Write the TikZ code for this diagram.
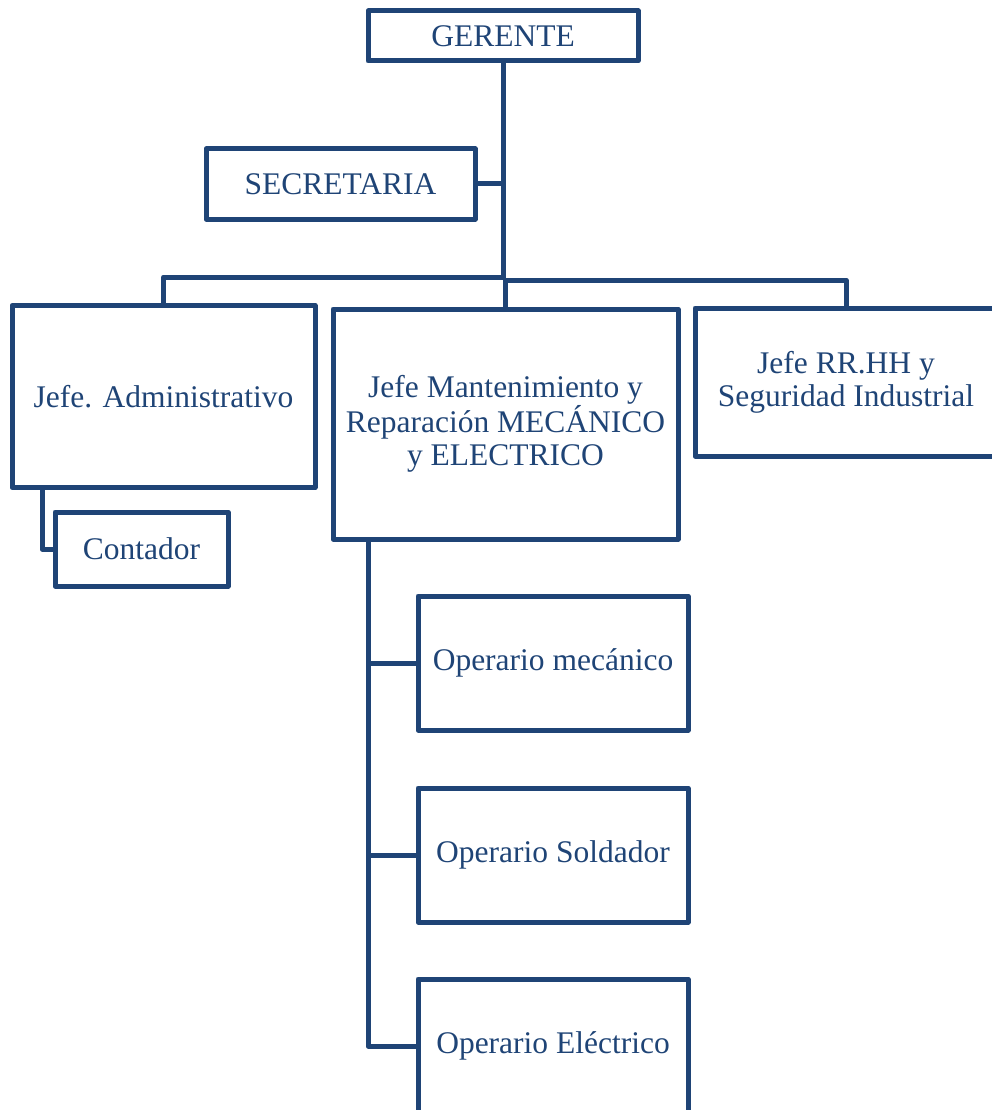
\documentclass[tikz,border=0pt]{standalone}
\usepackage{fontspec}
\setmainfont{Liberation Serif}
\definecolor{orgblue}{RGB}{31,68,118}
\begin{document}
\begin{tikzpicture}[x=1pt,y=-1pt,
  box/.style={draw=orgblue, line width=5pt, line join=round, rectangle, inner sep=0pt, outer sep=0pt,
    text=orgblue, align=center, font=\fontsize{31.5}{33}\selectfont},
  link/.style={draw=orgblue, line width=5pt, line join=round}]
\useasboundingbox (0,0) rectangle (992,1110);
\clip (0,0) rectangle (992,1110);
\node[box, minimum width=270pt, minimum height=50pt] (ger) at (503,36) {GERENTE};
\node[box, minimum width=269pt, minimum height=70pt] (sec) at (340.5,184) {SECRETARIA};
\node[box, minimum width=303pt, minimum height=182pt] (adm) at (163.5,396.5) {Jefe. Administrativo};
\node[box, minimum width=345pt, minimum height=230pt] (jef) at (505.5,424) {Jefe Mantenimiento y\\Reparación MECÁNICO\\y ELECTRICO};
\node[box, minimum width=302pt, minimum height=148pt] (rrhh) at (846,382) {Jefe RR.HH y\\Seguridad Industrial};
\node[box, minimum width=173pt, minimum height=74pt] (cont) at (141.5,549) {Contador};
\node[box, minimum width=270pt, minimum height=134pt] (mec) at (553,663) {Operario mecánico};
\node[box, minimum width=270pt, minimum height=134pt] (sold) at (553,855) {Operario Soldador};
\node[box, minimum width=270pt, minimum height=134pt] (elec) at (553,1046) {Operario Eléctrico};
\coordinate (jL) at (503,277);
\coordinate (jR) at (503,280);
\draw[link] (ger.south) -- (jR);
\draw[link] (sec.east) -- (sec.east -| ger.south);
\draw[link] (jL) -| (adm.north);
\draw[link] (jR) -| (rrhh.north);
\draw[link] (jR) -| (jef.north);
\draw[link] ([xshift=30pt]adm.south west) |- (cont.west);
\draw[link] ([xshift=35pt]jef.south west) |- (mec.west);
\draw[link] ([xshift=35pt]jef.south west) |- (sold.west);
\draw[link] ([xshift=35pt]jef.south west) |- (elec.west);
\end{tikzpicture}
\end{document}
